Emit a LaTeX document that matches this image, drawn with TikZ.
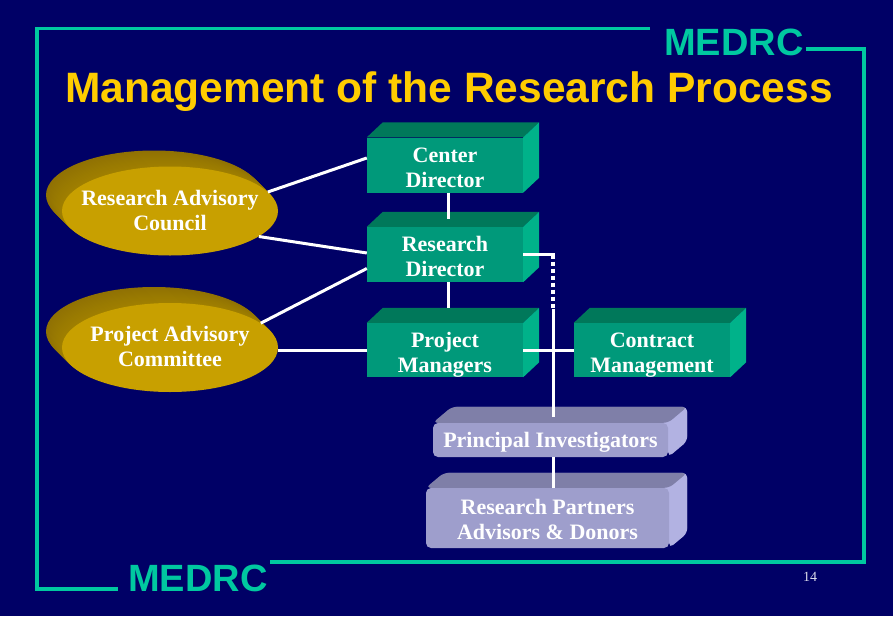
\documentclass[tikz,border=0pt]{standalone}
\usepackage{fontspec}
\setmainfont{Liberation Serif}
\newfontfamily\arialfont{Liberation Sans}
\usetikzlibrary{calc,shapes.geometric}
\definecolor{navy}{RGB}{0,0,102}
\definecolor{framecol}{RGB}{0,200,160}
\definecolor{titlecol}{RGB}{255,204,0}
\definecolor{gfront}{RGB}{0,153,122}
\definecolor{gtop}{RGB}{0,120,90}
\definecolor{gside}{RGB}{0,178,138}
\definecolor{lfront}{RGB}{158,158,204}
\definecolor{ltop}{RGB}{127,127,168}
\definecolor{lside}{RGB}{178,178,226}
\definecolor{gold}{RGB}{200,160,0}
\definecolor{golddark}{RGB}{158,122,8}
\definecolor{pagecol}{RGB}{220,220,235}
\pgfdeclarelayer{bg}
\pgfsetlayers{bg,main}
\newcommand\boxdepth[5]{%
  \fill[#4] (#1.north west) -- ++(#2,-#3) -- ($(#1.north east)+(#2,-#3)$) -- (#1.north east) -- cycle;
  \fill[#5] (#1.north east) -- ++(#2,-#3) -- ($(#1.south east)+(#2,-#3)$) -- (#1.south east) -- cycle;}
\begin{document}
\begin{tikzpicture}[x=1pt,y=-1pt,
  boxtext/.style={text=white, inner sep=0pt, font=\bfseries\fontsize{22}{25}\selectfont, align=center},
  gbox/.style={fill=gfront, minimum width=156pt, minimum height=55pt, inner sep=0pt},
  lbox/.style={fill=lfront, rounded corners=5pt, inner sep=0pt},
  goldell/.style={ellipse, fill=gold, minimum width=216pt, minimum height=89pt, inner sep=0pt},
  conn/.style={white, line width=3pt},
  dotconn/.style={white, line width=4pt, dash pattern=on 4pt off 3pt},
  framel/.style={framecol, line width=3.5pt},
  medrc/.style={anchor=base west, text=framecol, inner sep=0pt, font=\arialfont\bfseries\fontsize{38}{38}\selectfont},
]
\begin{pgfonlayer}{bg}
\fill[navy] (0,0) rectangle (893,616);
\end{pgfonlayer}
\useasboundingbox (0,0) rectangle (893,616);

% frame
\draw[framel] (650,28.5) -- (37,28.5) -- (37,589) -- (118,589);
\draw[framel] (806,49) -- (864,49) -- (864,562) -- (270,562);
\node[medrc] (medrcTop) at (664,55) {MEDRC};
\node[medrc] (medrcBot) at (128,591) {MEDRC};
\node[anchor=base, text=titlecol, inner sep=0pt, font=\arialfont\bfseries\fontsize{42.5}{44}\selectfont] (title) at (449,102) {Management of the Research Process};
\node[text=pagecol, inner sep=0pt, font=\fontsize{14}{14}\selectfont] (page) at (810,577) {14};

% ellipses
\node[goldell] (rac) at (170,211) {};
\node[goldell] (pac) at (170,347.5) {};
\node[boxtext] (ractext) at ($(rac)+(0,1.5)$) {\strut Research Advisory\\\strut Council};
\node[boxtext] (pactext) at ($(pac)+(0,1.5)$) {\strut Project Advisory\\\strut Committee};
\begin{pgfonlayer}{bg}
\foreach \e in {rac,pac}{
  \foreach \t in {16,15,...,1}{
    \pgfmathsetmacro\p{100-3*\t}
    \fill[gold!\p!golddark!80!black] ($(\e)+(-\t,-\t)$) ellipse [x radius=108pt, y radius=44.5pt];
  }
}
\end{pgfonlayer}

% green boxes
\node[gbox] (cd) at (445,165) {};
\node[gbox] (rd) at (445,254.5) {};
\node[gbox, minimum height=54pt] (pm) at (445,350) {};
\node[gbox, minimum height=54pt] (cm) at (652,350) {};
\foreach \b in {cd,rd,pm,cm}{\boxdepth{\b}{16}{15}{gtop}{gside}}
\node[boxtext] (cdtext) at ($(cd)+(0,4.5)$) {\strut Center\\\strut Director};
\node[boxtext] (rdtext) at ($(rd)+(0,4.5)$) {\strut Research\\\strut Director};
\node[boxtext] (pmtext) at ($(pm)+(0,4.5)$) {\strut Project\\\strut Managers};
\node[boxtext] (cmtext) at ($(cm)+(0,4.5)$) {\strut Contract\\\strut Management};

% lavender boxes
\node[lbox, minimum width=235pt, minimum height=34pt] (pi) at (550.5,440) {};
\node[lbox, minimum width=243pt, minimum height=60pt] (rp) at (547.5,518) {};
\node[boxtext] (pitext) at ($(pi)+(0,2)$) {\strut Principal Investigators};
\node[boxtext] (rptext) at ($(rp)+(0,3.5)$) {\strut Research Partners\\\strut Advisors \& Donors};
\begin{pgfonlayer}{bg}
\fill[lside, rounded corners=5pt] ($(pi.north west)+(19,-16)$) rectangle ($(pi.south east)+(19,-16)$);
\fill[lside, rounded corners=5pt] (pi.north east) -- ++(19,-16) -- ($(pi.south east)+(19,-16)$) -- (pi.south east) -- cycle;
\fill[ltop, rounded corners=5pt] (pi.north west) -- ++(19,-16) -- ($(pi.north east)+(19,-16)$) -- (pi.north east) -- cycle;
\fill[lside, rounded corners=5pt] ($(rp.north west)+(18,-15)$) rectangle ($(rp.south east)+(18,-15)$);
\fill[lside, rounded corners=5pt] (rp.north east) -- ++(18,-15) -- ($(rp.south east)+(18,-15)$) -- (rp.south east) -- cycle;
\fill[ltop, rounded corners=5pt] (rp.north west) -- ++(18,-15) -- ($(rp.north east)+(18,-15)$) -- (rp.north east) -- cycle;
\end{pgfonlayer}

% connectors
\draw[conn] (rac.11) -- ($(cd.west)+(0,-7)$);
\draw[conn] (rac.-16) -- ($(rd.west)+(0,-1.5)$);
\draw[conn] (pac.15) -- ($(rd.west)+(0,14)$);
\draw[conn] (pac.east |- pm.west) -- (pm.west);
\draw[conn] ($(cd.south)+(3,0)$) -- ($(rd.north)+(3,-8)$);
\draw[conn] ($(rd.south)+(3,0)$) -- ($(pm.north)+(3,-15)$);
\coordinate (j1) at ($(rd.east)+(30,0)$);
\coordinate (j2) at ($(j1)+(0,54)$);
\draw[conn] (rd.east) -- ([xshift=1.5pt]j1);
\draw[dotconn] (j1) -- (j2);
\draw[conn] (j2) -- ($(j1 |- pi.north)+(0,-6)$);
\draw[conn] (pm.east) -- (cm.west);
\draw[conn] (j1 |- pi.south) -- (j1 |- rp.north);
\end{tikzpicture}
\end{document}
